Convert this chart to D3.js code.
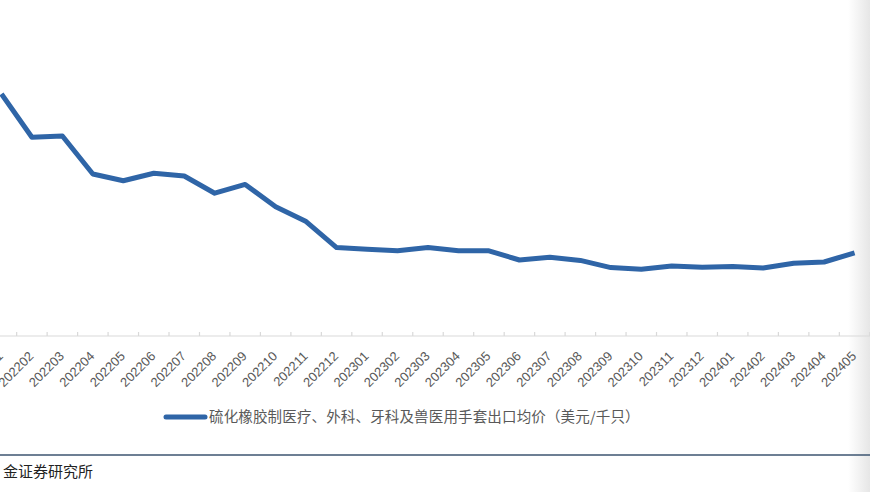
<!DOCTYPE html>
<html>
<head>
<meta charset="utf-8">
<script src="https://cdn.jsdelivr.net/npm/d3@7"></script>
<style>
  html, body { margin: 0; padding: 0; background: #fff; }
  #chart { width: 870px; height: 492px; }
</style>
</head>
<body>
<div id="chart"></div>
<script>
// 月份
const months = [
  "202201", "202202", "202203", "202204", "202205", "202206", "202207", "202208",
  "202209", "202210", "202211", "202212", "202301", "202302", "202303", "202304",
  "202305", "202306", "202307", "202308", "202309", "202310", "202311", "202312",
  "202401", "202402", "202403", "202404", "202405"
];
// 出口均价（美元/千只）
const price = [
  60.5, 49.7, 50.0, 40.5, 38.8, 40.7, 40.0, 35.7,
  37.9, 32.3, 28.6, 22.1, 21.7, 21.3, 22.1, 21.3,
  21.3, 19.0, 19.7, 18.9, 17.1, 16.7, 17.5, 17.2,
  17.4, 17.0, 18.2, 18.5, 20.8
];
const seriesName = "硫化橡胶制医疗、外科、牙科及兽医用手套出口均价（美元/千只）";
const sourceText = "金证券研究所";

const width = 870, height = 492;
const axisY = 336;
const lineColor = "#2f65a7";

const svg = d3.select("#chart").append("svg")
  .attr("width", width)
  .attr("height", height)
  .attr("viewBox", [0, 0, width, height]);

// 右侧阴影
const grad = svg.append("defs").append("linearGradient")
  .attr("id", "edge").attr("x1", "0").attr("x2", "1").attr("y1", "0").attr("y2", "0");
grad.append("stop").attr("offset", "0").attr("stop-color", "#ffffff");
grad.append("stop").attr("offset", "1").attr("stop-color", "#e6e6e6");
svg.append("rect")
  .attr("x", 848).attr("y", 0).attr("width", 22).attr("height", height)
  .attr("fill", "url(#edge)");

const x = d3.scaleBand()
  .domain(months)
  .range([-13.8, 869.8])
  .paddingInner(0)
  .paddingOuter(0);

const y = d3.scaleLinear()
  .domain([0, 70])
  .range([axisY, axisY - 280]);

const cx = d => x(d) + x.bandwidth() / 2;

// x 轴
const axis = svg.append("g");
axis.append("line")
  .attr("x1", 0).attr("x2", width)
  .attr("y1", axisY).attr("y2", axisY)
  .attr("stroke", "#d9d9d9").attr("stroke-width", 1.2);

axis.selectAll(".tick")
  .data(months.slice(1).concat(["_end"]))
  .join("line")
    .attr("x1", (d, i) => i < months.length - 1 ? x(d) : x.range()[1])
    .attr("x2", (d, i) => i < months.length - 1 ? x(d) : x.range()[1])
    .attr("y1", axisY - 4).attr("y2", axisY)
    .attr("stroke", "#d9d9d9").attr("stroke-width", 1.2);

axis.selectAll("text")
  .data(months)
  .join("text")
    .attr("transform", d => `translate(${cx(d) + 2.5},${axisY + 21}) rotate(-45)`)
    .attr("text-anchor", "end")
    .attr("font-family", "'Liberation Sans', Arial, sans-serif")
    .attr("font-size", 13)
    .attr("fill", "#595959")
    .text(d => d);

// 折线
const line = d3.line()
  .x((d, i) => cx(months[i]))
  .y(d => y(d));

svg.append("path")
  .datum(price)
  .attr("d", line)
  .attr("fill", "none")
  .attr("stroke", lineColor)
  .attr("stroke-width", 5)
  .attr("stroke-linejoin", "round");

// 图例
const legend = svg.append("g").attr("transform", "translate(166,417)");
legend.append("line")
  .attr("x1", 0).attr("x2", 39)
  .attr("stroke", lineColor).attr("stroke-width", 5)
  .attr("stroke-linecap", "round");
legend.append("text")
  .attr("x", 43).attr("dy", "0.36em")
  .attr("font-family", "'Noto Sans CJK SC', sans-serif")
  .attr("font-size", 14.5)
  .attr("letter-spacing", 0.15)
  .attr("fill", "#595959")
  .text(seriesName);

// 底部分隔线和来源
svg.append("line")
  .attr("x1", 0).attr("x2", width)
  .attr("y1", 455).attr("y2", 455)
  .attr("stroke", "#3d5570").attr("stroke-width", 1.5);

svg.append("text")
  .attr("x", 3).attr("y", 472).attr("dy", "0.36em")
  .attr("font-family", "'Noto Sans CJK SC', sans-serif")
  .attr("font-size", 15)
  .attr("fill", "#222")
  .text(sourceText);
</script>
</body>
</html>
